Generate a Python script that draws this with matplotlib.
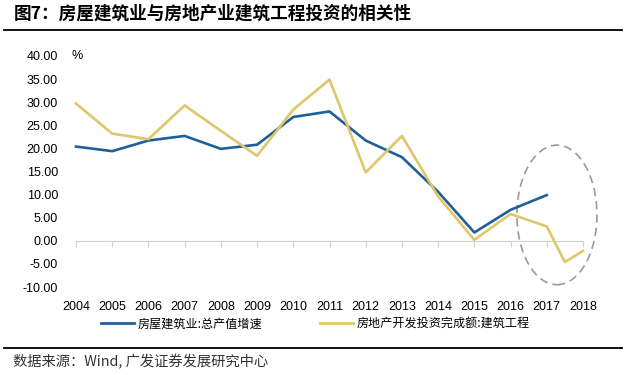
import numpy as np
import matplotlib.pyplot as plt
from matplotlib.patches import Ellipse
from matplotlib.lines import Line2D

plt.rcParams['font.family'] = ['Liberation Sans', 'Noto Sans CJK SC', 'DejaVu Sans']

# data (%)
years_a = [2004, 2005, 2006, 2007, 2008, 2009, 2010, 2011, 2012, 2013, 2014, 2015, 2016, 2017]
output_growth = [20.4, 19.4, 21.7, 22.7, 19.9, 20.8, 26.8, 28.0, 21.7, 18.1, 10.6, 1.8, 6.7, 9.9]
years_b = [2004, 2005, 2006, 2007, 2008, 2009, 2010, 2011, 2012, 2013, 2014, 2015, 2016, 2017, 2017.5, 2018]
build_invest = [29.7, 23.2, 22.0, 29.3, 23.8, 18.4, 28.4, 34.9, 14.8, 22.7, 9.6, 0.2, 5.8, 3.1, -4.6, -2.2]
xticks = list(range(2004, 2019))
yticks = list(range(-10, 41, 5))

label_a = '房屋建筑业:总产值增速'
label_b = '房地产开发投资完成额:建筑工程'
title = '图7：房屋建筑业与房地产业建筑工程投资的相关性'
source = '数据来源：Wind, 广发证券发展研究中心'

blue = '#1f5f9c'
yellow = '#e0c56a'

fig = plt.figure(figsize=(6.25, 3.75), dpi=100)
ax = fig.add_axes([76/625, 88/375, 507/625, 231/375])

ax.plot(years_a, output_growth, color=blue, lw=1.9, clip_on=False, zorder=3)
ax.plot(years_b, build_invest, color=yellow, lw=1.9, clip_on=False, zorder=3)

ax.set_xlim(2004, 2018)
ax.set_ylim(-10, 40)
ax.set_yticks(yticks)
ax.set_yticklabels(['%.2f' % v for v in yticks], fontsize=9)
ax.tick_params(axis='y', length=0, pad=13)

for s in ['left', 'right', 'top']:
    ax.spines[s].set_visible(False)
ax.spines['bottom'].set_position(('data', 0))
ax.spines['bottom'].set_color('#d0d0d0')
ax.set_xticks(xticks)
ax.tick_params(axis='x', labelbottom=False, length=4, color='#d0d0d0', direction='out')

sec = ax.secondary_xaxis('bottom')
sec.set_xticks(xticks)
sec.set_xticklabels([str(y) for y in xticks], fontsize=9)
sec.tick_params(length=0, pad=10)
sec.spines['bottom'].set_visible(False)

ell = Ellipse((2017.28, 5.6), 2.21, 30.2, fill=False, ls=(0, (5, 3)),
              ec='#9a9a9a', lw=1.2, clip_on=False, zorder=2)
ax.add_patch(ell)

fig.text(72/625, 1 - 56/375, '%', fontsize=9, va='center', ha='left')

handles = [Line2D([], [], color=blue, lw=2), Line2D([], [], color=yellow, lw=2)]
fig.legend(handles, [label_a, label_b], loc='center', bbox_to_anchor=(315.5/625, 1 - 324/375),
           ncol=2, frameon=False, handlelength=2.7, handletextpad=0.3, columnspacing=4.8,
           prop={'family': ['Noto Sans CJK SC'], 'size': 8.7})

fig.text(14/625, 1 - 14/375, title, fontsize=12.7, fontweight='bold',
         family=['Noto Sans CJK SC'], va='center', ha='left')
fig.add_artist(Line2D([4/625, 622/625], [1 - 30/375, 1 - 30/375], color='black', lw=1.3))
fig.add_artist(Line2D([4/625, 622/625], [1 - 348/375, 1 - 348/375], color='black', lw=1.3))
fig.text(13/625, 1 - 362/375, source, fontsize=10.3, family=['Noto Sans CJK SC'],
         va='center', ha='left', color='#333333')

plt.savefig('out.png', dpi=100)
